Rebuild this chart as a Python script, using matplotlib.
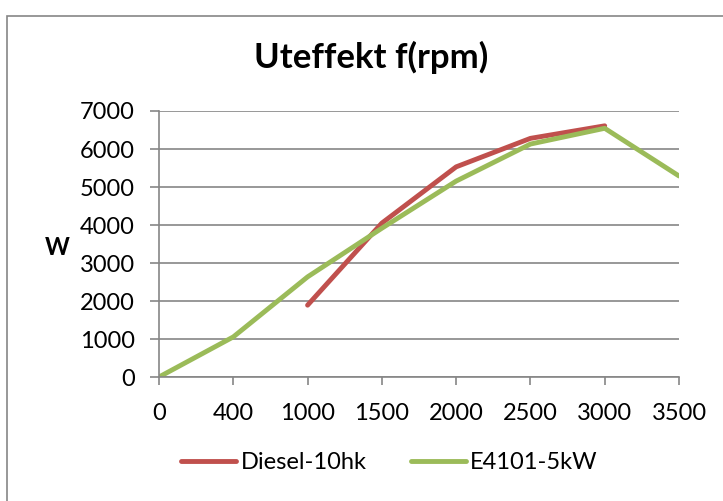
import numpy as np
import matplotlib.pyplot as plt
from matplotlib.patches import Rectangle

plt.rcParams['font.family'] = ['Lato', 'DejaVu Sans']

rpm = ['0', '400', '1000', '1500', '2000', '2500', '3000', '3500']
diesel = [np.nan, np.nan, 1890, 4050, 5530, 6280, 6610, np.nan]
e4101 = [0, 1055, 2635, 3915, 5155, 6130, 6545, 5290]

grey = '#868686'

fig = plt.figure(figsize=(7.23, 5.01), dpi=100)
fig.patches.append(Rectangle((7 / 723, -0.1), 1.2, 1 - 16 / 501 + 0.1,
                             transform=fig.transFigure, fill=False,
                             edgecolor=grey, linewidth=1.2))
ax = fig.add_axes([159 / 723, 1 - 377 / 501, 520 / 723, 266 / 501])

x = np.arange(len(rpm))
ax.plot(x, diesel, color='#C0504D', linewidth=3.5, label='Diesel-10hk',
        solid_capstyle='round')
ax.plot(x, e4101, color='#9BBB59', linewidth=3.5, label='E4101-5kW',
        solid_capstyle='round')

ax.set_xlim(0, 7)
ax.set_ylim(0, 7000)
ax.set_yticks(np.arange(0, 7001, 1000))
ax.set_xticks(x)
ax.set_xticklabels(rpm)
ax.grid(axis='y', color=grey, linewidth=1.2)
ax.set_axisbelow(True)
for s in ['top', 'right']:
    ax.spines[s].set_visible(False)
for s in ['left', 'bottom']:
    ax.spines[s].set_color(grey)
    ax.spines[s].set_linewidth(1.2)
ax.tick_params(axis='x', direction='out', length=6, color=grey, width=1.2,
               pad=13, labelsize=17)
ax.tick_params(axis='y', direction='out', length=6.5, color=grey, width=1.2,
               pad=11, labelsize=17)

ax.set_ylabel('W', rotation=0, fontsize=17, fontweight='bold',
              va='center', ha='center')
ax.yaxis.set_label_coords(-0.196, 0.485)
fig.text(0.513, 0.886, 'Uteffekt f(rpm)', ha='center', va='center',
         fontsize=25, fontweight='bold')

fig.legend(loc='center', bbox_to_anchor=(0.539, 0.076), ncol=2, frameon=False,
           fontsize=17, handlelength=2.3, handletextpad=0.2, columnspacing=1.9)

fig.savefig('out.png', dpi=100)
